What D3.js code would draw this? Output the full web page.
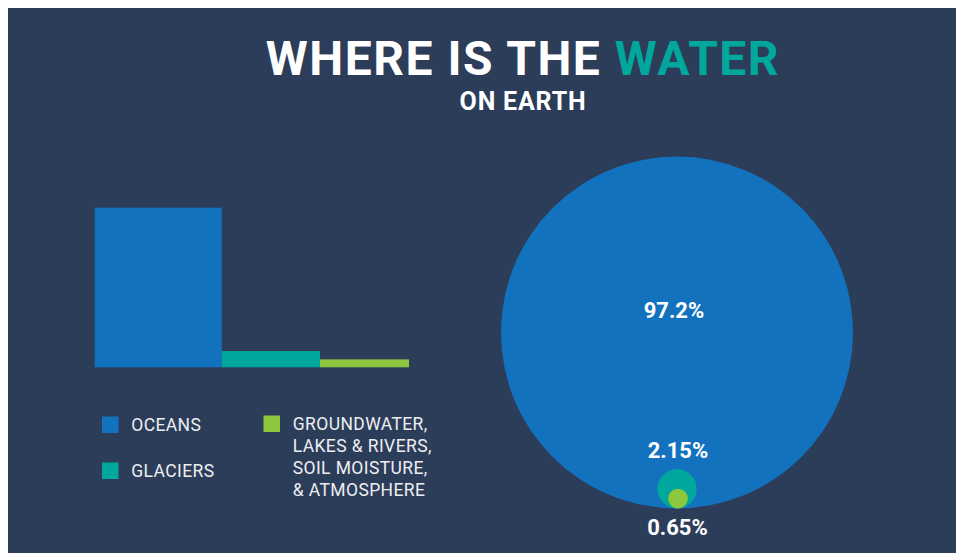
<!DOCTYPE html>
<html>
<head>
<meta charset="utf-8">
<script src="https://cdn.jsdelivr.net/npm/d3@7"></script>
<style>
  html, body { margin: 0; padding: 0; background: #ffffff; }
  svg { display: block; font-family: Roboto, "Noto Sans", sans-serif; }
</style>
</head>
<body>
<svg id="chart" width="956" height="553"></svg>
<script>
// ---- data ----
const categories = ["OCEANS", "GLACIERS", "GROUNDWATER"];
const values = [97.2, 2.15, 0.65];
const valueLabels = ["97.2%", "2.15%", "0.65%"];
const legendLines = [
  ["OCEANS"],
  ["GLACIERS"],
  ["GROUNDWATER,", "LAKES & RIVERS,", "SOIL MOISTURE,", "& ATMOSPHERE"]
];
const titleParts = ["WHERE IS THE ", "WATER"];
const subtitle = "ON EARTH";

// ---- styles / layout ----
const colors = ["#1372be", "#00a79d", "#8dc63f"];
const bg = "#2c3d5a";
const barWidths = [127, 98.3, 89];

const svg = d3.select("#chart");
svg.append("rect").attr("x", 8).attr("y", 8).attr("width", 948).attr("height", 545).attr("fill", bg);

// title
const title = svg.append("text")
  .attr("x", 523).attr("y", 75)
  .attr("text-anchor", "middle")
  .attr("font-size", 48).attr("font-weight", 700)
  .attr("letter-spacing", 1.5);
title.append("tspan").attr("fill", "#ffffff").text(titleParts[0]);
title.append("tspan").attr("fill", "#00a79d").text(titleParts[1]);

svg.append("text")
  .attr("x", 523).attr("y", 110)
  .attr("text-anchor", "middle")
  .attr("font-size", 25).attr("font-weight", 700)
  .attr("letter-spacing", 0.8)
  .attr("fill", "#ffffff")
  .text(subtitle);

// ---- bar chart ----
const barBase = 367.3;
const yBar = d3.scalePow().exponent(0.6).domain([0, values[0]]).range([0, 159.6]);
const barX = [];
let acc = 94.7;
barWidths.forEach(w => { barX.push(acc); acc += w; });

svg.append("g").selectAll("rect")
  .data(values)
  .join("rect")
  .attr("x", (d, i) => barX[i])
  .attr("width", (d, i) => barWidths[i])
  .attr("y", d => barBase - yBar(d))
  .attr("height", d => yBar(d))
  .attr("fill", (d, i) => colors[i]);

// ---- legend ----
const legendPos = [
  { x: 102, y: 416.5 },
  { x: 102, y: 462.5 },
  { x: 263.5, y: 415.5 }
];
const lg = svg.append("g");
categories.forEach((c, i) => {
  const p = legendPos[i];
  lg.append("rect")
    .attr("x", p.x).attr("y", p.y)
    .attr("width", 16.5).attr("height", 16.5)
    .attr("fill", colors[i]);
  const t = lg.append("text")
    .attr("x", p.x + 29.2).attr("y", p.y + 14.5)
    .attr("font-size", 17.5).attr("letter-spacing", 0.4)
    .attr("fill", "#eceef1");
  legendLines[i].forEach((line, j) => {
    t.append("tspan")
      .attr("x", p.x + 29.2)
      .attr("dy", j === 0 ? 0 : 22)
      .text(line);
  });
});

// ---- nested circles ----
const rScale = d3.scalePow().exponent(0.575).domain([0, values[0]]).range([0, 176]);
const cx = 677, circleBottom = 508.5;
svg.append("g").selectAll("circle")
  .data(values)
  .join("circle")
  .attr("cx", (d, i) => cx + [0, 0, 1][i])
  .attr("cy", d => circleBottom - rScale(d))
  .attr("r", d => rScale(d))
  .attr("fill", (d, i) => colors[i]);

// value labels
const labelPos = [
  { x: 674, y: 318 },
  { x: 678, y: 457.5 },
  { x: 677.5, y: 535 }
];
svg.append("g").selectAll("text")
  .data(valueLabels)
  .join("text")
  .attr("x", (d, i) => labelPos[i].x)
  .attr("y", (d, i) => labelPos[i].y)
  .attr("text-anchor", "middle")
  .attr("font-size", 22).attr("font-weight", 700)
  .attr("fill", "#ffffff")
  .text(d => d);
</script>
</body>
</html>
